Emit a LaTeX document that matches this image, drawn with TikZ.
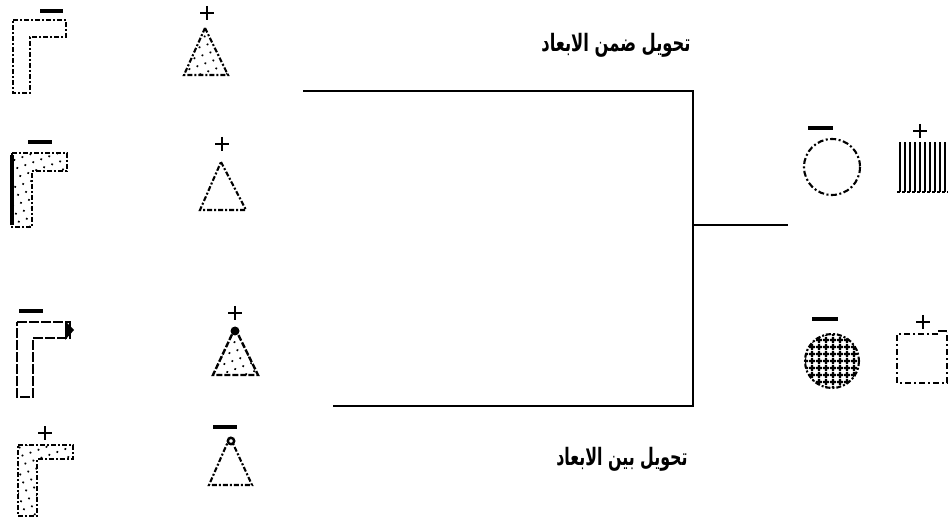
\documentclass[tikz,border=0pt]{standalone}
\usepackage{fontspec}
\usepackage{graphicx}
\newfontfamily\arabicfont[Script=Arabic]{DejaVu Sans}
\TeXXeTstate=1
\usetikzlibrary{patterns.meta}
\begin{document}
\begin{tikzpicture}[x=1pt,y=-1pt,
  sketch/.style={line width=2.1pt, dash pattern=on 5pt off 2pt on 2pt off 2pt},
  solidsk/.style={line width=2.4pt},
  dotfill/.style={pattern={Dots[radius=1.2pt,distance=8.5pt,angle=20]}},
  vlines/.style={pattern={Lines[angle=90,distance=5pt,line width=1.5pt]}},
  grid/.style={pattern={Hatch[angle=0,distance=6.5pt,line width=2.4pt]}},
  signline/.style={line width=2.8pt},
  minusbar/.style={line width=4pt},
  wire/.style={line width=2.6pt},
  label/.style={font=\arabicfont\bfseries\fontsize{24}{26}\selectfont, inner sep=0pt}
]
\useasboundingbox (0,0) rectangle (950,518);
% --- bracket connectors
\coordinate (topL) at (303,91);
\coordinate (botL) at (333,406);
\coordinate (joint) at (693,225);
\coordinate (stubR) at (788,225);
\draw[wire] (topL) -| (joint);
\draw[wire] (botL) -| (joint);
\draw[wire] (joint) -- (stubR);
\node[label] (toptext) at (616,45) {\scalebox{0.68}[1]{\beginR تحويل ضمن الابعاد\endR}};
\node[label] (bottext) at (622,459) {\scalebox{0.66}[1]{\beginR تحويل بين الابعاد\endR}};
% --- left column: L shapes
% row 1
\draw[sketch] (13,20) -- (66,20) -- (66,37) -- (30,37) -- (30,93) -- (13,93) -- cycle;
\draw[minusbar] (40,11) -- (63,11);
% row 2
\draw[sketch, dotfill] (12,153) -- (67,153) -- (67,171) -- (32,171) -- (32,227) -- (12,227) -- cycle;
\draw[line width=3.6pt] (12,155) -- (12,225);
\draw[minusbar] (28,142) -- (52,142);
% row 3
\draw[solidsk, dash pattern=on 10pt off 2pt] (17,322) -- (70,322) -- (70,338) -- (33,338) -- (33,397) -- (17,397) -- cycle;
\fill (65,321) -- (74,330) -- (65,340) -- cycle;
\draw[minusbar] (19,311) -- (43,311);
% row 4
\draw[sketch, dotfill] (18,445) -- (73,445) -- (73,459) -- (37,459) -- (37,516) -- (18,516) -- cycle;
\draw[signline] (38,433) -- (52,433) (45,426) -- (45,440);
% --- left column: triangles
% row 1
\draw[sketch, dotfill] (205,28) -- (228,75) -- (184,75) -- cycle;
\draw[signline] (200,13) -- (214,13) (207,6) -- (207,20);
% row 2
\draw[sketch] (221,162) -- (246,210) -- (200,210) -- cycle;
\draw[signline] (215,144) -- (229,144) (222,137) -- (222,151);
% row 3
\draw[solidsk, dash pattern=on 6pt off 2pt, dotfill] (235,328) -- (258,375) -- (213,375) -- cycle;
\fill (235,331) circle (4.5pt);
\draw[signline] (228,313) -- (242,313) (235,306) -- (235,320);
% row 4
\draw[sketch] (230,437) -- (252,485) -- (209,485) -- cycle;
\draw[line width=2.4pt, fill=white] (231,441) circle (3.2pt);
\draw[minusbar] (213,427) -- (237,427);
% --- right column
% row 1 circle
\draw[sketch, dash pattern=on 6pt off 2.5pt on 2pt off 2.5pt] (832,167) circle (28);
\draw[minusbar] (808,128) -- (833,128);
% row 1 hatched square
\path[vlines] (897,143) rectangle (948,192);
\draw[line width=1.6pt, dash pattern=on 3pt off 2pt] (897,192) -- (948,192);
\draw[signline] (913,131) -- (927,131) (920,124) -- (920,138);
% row 3 crosshatched circle
\draw[sketch, grid] (832,361) circle (27);
\draw[minusbar] (812,319) -- (838,319);
% row 3 dashed square
\draw[sketch, dash pattern=on 6pt off 3pt on 2pt off 3pt] (938,334) -- (897,334) -- (897,383) -- (947,383) -- (947,332);
\draw[line width=2.4pt] (938,331) -- (947,331);
\draw[signline] (916,322) -- (930,322) (923,315) -- (923,329);
\end{tikzpicture}
\end{document}
